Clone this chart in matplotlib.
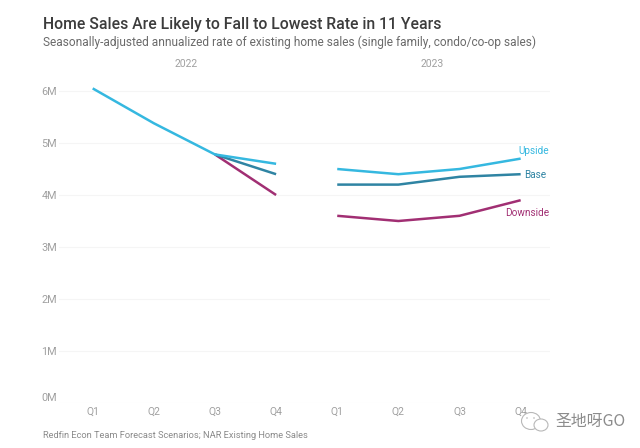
import matplotlib
matplotlib.use('Agg')
import matplotlib.pyplot as plt
from matplotlib.patches import Circle, Ellipse

# ---------- Data ----------
QUARTERS = ['Q1', 'Q2', 'Q3', 'Q4', 'Q1', 'Q2', 'Q3', 'Q4']
X_2022 = [0, 1, 2, 3]
X_2023 = [4, 5, 6, 7]
UPSIDE_2022 = [6.05, 5.38, 4.78, 4.6]
BASE_2022 = [None, None, 4.78, 4.4]
DOWNSIDE_2022 = [None, None, 4.78, 4.0]
UPSIDE_2023 = [4.5, 4.4, 4.5, 4.7]
BASE_2023 = [4.2, 4.2, 4.35, 4.4]
DOWNSIDE_2023 = [3.6, 3.5, 3.6, 3.9]
Y_TICKS = [0, 1, 2, 3, 4, 5, 6]
Y_LABELS = ['0M', '1M', '2M', '3M', '4M', '5M', '6M']

COL_UP = '#35b8e0'
COL_BASE = '#2f84a3'
COL_DOWN = '#a12f73'
COL_TEXT = '#a0a0a0'

plt.rcParams['font.family'] = ['Roboto', 'DejaVu Sans']

W, H = 640, 448
fig = plt.figure(figsize=(6.4, 4.48), dpi=100, facecolor='white')


def fx(px):
  return px / W


def fy(py):
  return 1 - py / H


# axes placed in pixel terms
ax = fig.add_axes([fx(59), fy(403), (550 - 59) / W, (403 - 70) / H])
ax.set_xlim(-0.551, 7.48)
ax.set_ylim(0, 6.404)
for s in ax.spines.values():
  s.set_visible(False)
ax.set_yticks(Y_TICKS)
ax.set_yticklabels(Y_LABELS, fontsize=7.8, color=COL_TEXT)
ax.get_yticklabels()[0].set_verticalalignment('bottom')
ax.set_xticks(range(8))
ax.set_xticklabels(QUARTERS, fontsize=7.5, color=COL_TEXT)
ax.tick_params(length=0)
ax.tick_params(axis='y', pad=1.5)
ax.tick_params(axis='x', pad=3)
ax.grid(axis='x', visible=False)
ax.grid(axis='y', color='#f5f5f5', lw=0.8)
ax.set_axisbelow(True)

# draw order: downside and base under upside for the shared 2022 stretch
for xs, ys, c in [
  (X_2022, DOWNSIDE_2022, COL_DOWN),
  (X_2022, BASE_2022, COL_BASE),
  (X_2022, UPSIDE_2022, COL_UP),
  (X_2023, DOWNSIDE_2023, COL_DOWN),
  (X_2023, BASE_2023, COL_BASE),
  (X_2023, UPSIDE_2023, COL_UP),
]:
  pts = [(x, y) for x, y in zip(xs, ys) if y is not None]
  ax.plot([p[0] for p in pts], [p[1] for p in pts], color=c, lw=1.8, solid_capstyle='butt', solid_joinstyle='round')

# ---------- Text ----------
fig.text(fx(43), fy(24), 'Home Sales Are Likely to Fall to Lowest Rate in 11 Years', fontsize=11.35, color='#3c3c3c', va='center', weight='medium')
fig.text(fx(43), fy(42), 'Seasonally-adjusted annualized rate of existing home sales (single family, condo/co-op sales)', fontsize=8.6, color='#6a6a6a', va='center')
fig.text(fx(186), fy(64), '2022', fontsize=7.5, color=COL_TEXT, ha='center', va='center')
fig.text(fx(432), fy(64), '2023', fontsize=7.5, color=COL_TEXT, ha='center', va='center')

# end labels, offset from each last point
ax.annotate('Upside', xy=(7, UPSIDE_2023[-1]), xytext=(20.5, 5.5), textcoords='offset points', color=COL_UP, fontsize=7.2, ha='right', va='center', annotation_clip=False)
ax.annotate('Base', xy=(7, BASE_2023[-1]), xytext=(2.2, -0.7), textcoords='offset points', color=COL_BASE, fontsize=7.2, ha='left', va='center', annotation_clip=False)
ax.annotate('Downside', xy=(7, DOWNSIDE_2023[-1]), xytext=(20.5, -9.3), textcoords='offset points', color=COL_DOWN, fontsize=7.2, ha='right', va='center', annotation_clip=False)

fig.text(fx(43), fy(435), 'Redfin Econ Team Forecast Scenarios; NAR Existing Home Sales', fontsize=6.7, color='#8a8a8a', va='center')

# ---------- Watermark ----------
fig.text(fx(555), fy(421), '圣地呀GO', fontsize=11.4, color='#8c8c8c', va='center', family=['Noto Sans CJK SC', 'DejaVu Sans'])
ov = fig.add_axes([0, 0, 1, 1], facecolor='none')
ov.set_xlim(0, W)
ov.set_ylim(H, 0)
ov.axis('off')
ov.add_patch(Ellipse((531, 421), 19, 17, fc='white', ec='#b8b8b8', lw=0.8))
ov.add_patch(Ellipse((541, 425), 14, 12, fc='white', ec='#b8b8b8', lw=0.8))
ov.add_patch(Circle((527, 418), 0.8, fc='#b8b8b8', ec='none'))
ov.add_patch(Circle((534, 418), 0.8, fc='#b8b8b8', ec='none'))

fig.savefig('out.png', dpi=100, facecolor='white')
